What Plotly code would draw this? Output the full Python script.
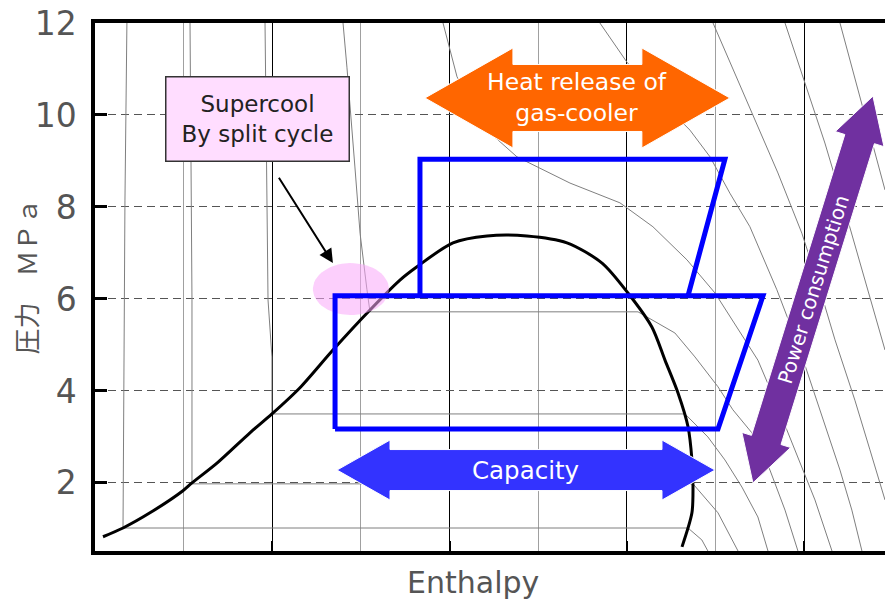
import numpy as np
import plotly.graph_objects as go

# CO2 pressure-enthalpy chart with a split cycle (h in kJ/kg, p in MPa)
X_RANGE = [100, 545.6]
Y_RANGE = [0.52, 12]
y_ticks = [2, 4, 6, 8, 10, 12]
major_h = [200, 300, 400, 500]
minor_h = [150, 250, 350, 450]

# saturation dome
sat_h = [104.5, 115.8, 131.0, 149.6, 154.7, 168.8, 187.4, 199.8, 215.6, 234.2, 255.1, 272.0,
         281.6, 301.9, 321.1, 343.6, 366.2, 386.0, 400.6, 414.1, 421.5, 428.8, 434.5, 436.7,
         437.3, 436.7, 431.1]
sat_p = [0.83, 1.02, 1.35, 1.83, 2.00, 2.43, 3.09, 3.50, 4.07, 4.89, 5.76, 6.41,
         6.70, 7.22, 7.37, 7.37, 7.22, 6.78, 6.13, 5.39, 4.67, 3.96, 3.22, 2.50,
         1.91, 1.35, 0.61]

# isotherms
t_m40_h = [118.0, 116.9, 115.8, 434.5, 442.3, 445.7]
t_m40_p = [12.0, 8.15, 1.02, 1.02, 0.76, 0.52]
t_m20_h = [153.6, 154.7, 154.7, 437.3, 451.4, 462.7]
t_m20_p = [12.0, 5.98, 1.98, 1.98, 1.35, 0.52]
t_0_h = [195.9, 197.0, 197.6, 199.8, 199.8, 432.8, 445.7, 455.3, 464.9, 473.9, 479.6]
t_0_p = [12.0, 8.15, 5.98, 4.74, 3.50, 3.50, 3.00, 2.50, 1.91, 1.26, 0.52]
t_20_h = [239.9, 242.1, 246.6, 249.5, 253.4, 255.1, 406.3, 427.1, 438.4, 451.4, 459.8,
          470.5, 480.7, 489.2, 496.5]
t_20_p = [12.0, 11.04, 8.87, 7.43, 6.20, 5.72, 5.72, 5.26, 4.74, 4.09, 3.59,
          3.09, 2.28, 1.41, 0.52]
t_40_h = [296.3, 304.2, 321.1, 338.0, 367.9, 396.1, 414.7, 433.9, 449.7, 462.7, 473.9,
          483.5, 494.8, 506.1, 515.7]
t_40_p = [12.0, 10.83, 9.67, 9.09, 8.52, 8.09, 7.57, 6.85, 6.13, 5.33, 4.67,
          3.80, 2.72, 1.63, 0.52]
t_60_h = [384.8, 400.0, 418.7, 435.6, 446.9, 458.1, 469.4, 484.6, 497.6, 508.9, 520.2,
          526.9, 532.6]
t_60_p = [12.0, 11.15, 10.33, 9.67, 9.09, 8.30, 7.57, 6.20, 4.89, 3.59, 2.28,
          1.41, 0.52]
t_80_h = [448.6, 459.3, 473.9, 485.2, 498.7, 507.8, 517.4, 528.6, 537.1, 545.6]
t_80_p = [12.0, 11.04, 9.74, 8.74, 7.43, 6.35, 5.11, 3.80, 2.72, 1.63]
t_100_h = [489.2, 500.4, 511.7, 523.0, 534.3, 545.6]
t_100_p = [12.0, 10.70, 9.39, 7.93, 6.41, 4.89]
t_120_h = [520.2, 526.9, 536.0, 545.6]
t_120_p = [12.0, 11.04, 9.74, 8.37]

# cycles
low_h = [235.4, 235.4, 476.8, 451.4, 235.4]
low_p = [3.17, 6.07, 6.07, 3.17, 3.17]
high_h = [283.3, 283.3, 455.3, 434.5]
high_p = [6.07, 9.04, 9.04, 6.07]

# annotation arrows (tip to tip)
heat_ends = [(286.1, 10.37), (458.1, 10.37)]
cap_ends = [(236.5, 2.28), (449.7, 2.28)]
power_ends = [(471.1, 2.0), (538.8, 10.41)]
supercool_c = (244.35, 6.215)
supercool_r = (21.45, 0.565)

W, H = 885, 602
M = dict(l=95, r=0, t=23, b=51)
sx = (W - M['l'] - M['r']) / (X_RANGE[1] - X_RANGE[0])
sy = (H - M['t'] - M['b']) / (Y_RANGE[1] - Y_RANGE[0])


def block_arrow(a, b, head_w, shaft_w, head_len):
    ax_, ay_ = a[0] * sx, a[1] * sy
    bx, by = b[0] * sx, b[1] * sy
    L = np.hypot(bx - ax_, by - ay_)
    ux, uy = (bx - ax_) / L, (by - ay_) / L
    nx, ny = -uy, ux
    pts = [(0, 0), (head_len, head_w), (head_len, shaft_w), (L - head_len, shaft_w),
           (L - head_len, head_w), (L, 0), (L - head_len, -head_w), (L - head_len, -shaft_w),
           (head_len, -shaft_w), (head_len, -head_w), (0, 0)]
    xs = [(ax_ + s * ux + t * nx) / sx for s, t in pts]
    ys = [(ay_ + s * uy + t * ny) / sy for s, t in pts]
    return xs, ys


def mid(ends):
    return (ends[0][0] + ends[1][0]) / 2, (ends[0][1] + ends[1][1]) / 2


fig = go.Figure()
for h, p in [(t_m40_h, t_m40_p), (t_m20_h, t_m20_p), (t_0_h, t_0_p), (t_20_h, t_20_p),
             (t_40_h, t_40_p), (t_60_h, t_60_p), (t_80_h, t_80_p), (t_100_h, t_100_p),
             (t_120_h, t_120_p)]:
    fig.add_trace(go.Scatter(x=h, y=p, mode='lines', line=dict(color='#7f7f7f', width=1),
                             hoverinfo='skip'))

fig.add_trace(go.Scatter(x=sat_h, y=sat_p, mode='lines',
                         line=dict(color='black', width=3, shape='spline', smoothing=0.8)))

th = np.linspace(0, 2 * np.pi, 60)
fig.add_trace(go.Scatter(x=supercool_c[0] + supercool_r[0] * np.cos(th),
                         y=supercool_c[1] + supercool_r[1] * np.sin(th),
                         mode='lines', fill='toself', line=dict(width=0),
                         fillcolor='rgba(249,168,249,0.55)'))

fig.add_trace(go.Scatter(x=low_h, y=low_p, mode='lines', line=dict(color='#0000FF', width=5)))
fig.add_trace(go.Scatter(x=high_h, y=high_p, mode='lines', line=dict(color='#0000FF', width=5)))

for ends, dims, col in [(heat_ends, (50, 33.5, 88), '#FF6600'),
                        (cap_ends, (30, 20.5, 53), '#3333FF'),
                        (power_ends, (25.5, 15.5, 45), '#7030A0')]:
    xs, ys = block_arrow(ends[0], ends[1], *dims)
    fig.add_trace(go.Scatter(x=xs, y=ys, mode='lines', fill='toself', fillcolor=col,
                             line=dict(color='white', width=1)))

txt_font = 'DejaVu Sans'
hx, hy = mid(heat_ends)
cx, cy = mid(cap_ends)
px_, py_ = mid(power_ends)
ang = -np.degrees(np.arctan2((power_ends[1][1] - power_ends[0][1]) * sy,
                             (power_ends[1][0] - power_ends[0][0]) * sx))
fig.add_annotation(x=hx, y=hy, text='Heat release of<br>gas-cooler', showarrow=False,
                   font=dict(family=txt_font, size=23.5, color='white'))
fig.add_annotation(x=cx, y=cy, text='Capacity', showarrow=False,
                   font=dict(family=txt_font, size=24.5, color='white'))
fig.add_annotation(x=px_, y=py_, text='Power consumption', showarrow=False, textangle=ang,
                   font=dict(family=txt_font, size=20, color='white'))
fig.add_annotation(x=234.2, y=6.78, ax=203.2, ay=8.67, axref='x', ayref='y', text='',
                   showarrow=True, arrowhead=2, arrowsize=1.4, arrowwidth=2, arrowcolor='black')
fig.add_annotation(x=191.4, y=9.92, text='Supercool<br>By split cycle', showarrow=False,
                   width=182, height=83, bgcolor='#FFDDFF', bordercolor='#333333',
                   borderwidth=1.5, borderpad=0,
                   font=dict(family=txt_font, size=23, color='#222222'))
fig.add_annotation(xref='paper', yref='paper', x=0.478, y=-0.0606, yanchor='middle',
                   text='Enthalpy', showarrow=False,
                   font=dict(family=txt_font, size=30, color='#555555'))
fig.add_annotation(xref='paper', yref='paper', x=-0.0885, y=0.52, xanchor='center',
                   text='圧力　ＭＰａ', textangle=-90, showarrow=False,
                   font=dict(family='Noto Sans CJK JP', size=26, color='#555555'))

fig.update_layout(
    width=W, height=H, margin=M, showlegend=False,
    plot_bgcolor='white', paper_bgcolor='white',
    xaxis=dict(range=X_RANGE, tickvals=major_h, showticklabels=False, ticks='inside',
               ticklen=10, tickwidth=2, tickcolor='black', showgrid=True, gridcolor='black',
               gridwidth=1, showline=True, linecolor='black', linewidth=3.5, mirror=True,
               zeroline=False,
               minor=dict(tickvals=minor_h, showgrid=True, gridcolor='#a0a0a0', gridwidth=1,
                          ticks='')),
    yaxis=dict(range=Y_RANGE, tickvals=y_ticks, ticks='inside', ticklen=12, tickwidth=3,
               tickcolor='black', showgrid=True, gridcolor='#555555', gridwidth=1.3,
               griddash='8px,5px', showline=True, linecolor='black', linewidth=3.5,
               zeroline=False, ticklabelstandoff=8,
               tickfont=dict(family=txt_font, size=33, color='#555555')),
)

fig.write_html("out.html", config={'displayModeBar': False},
               post_script="document.body.style.margin='0';")
